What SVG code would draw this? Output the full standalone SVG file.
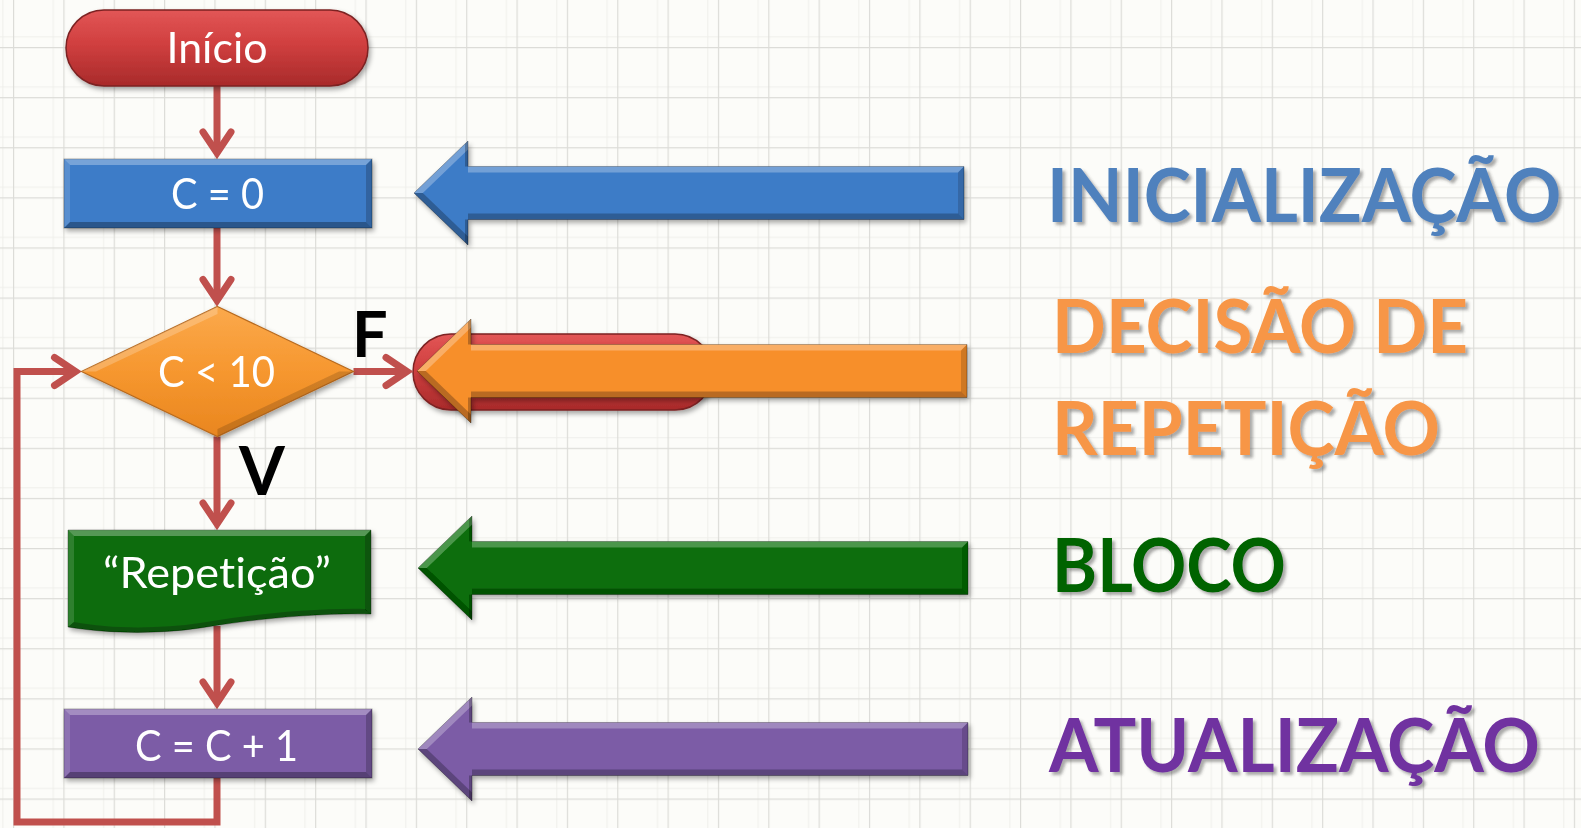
<svg xmlns="http://www.w3.org/2000/svg" xmlns:xlink="http://www.w3.org/1999/xlink" width="1581" height="828" viewBox="0 0 1581 828">
<style>
.nodeText{font-family:Lato,"Open Sans","Liberation Sans",sans-serif;font-size:42px;fill:#ffffff;text-anchor:middle;font-variant-ligatures:none}
.lbl{font-family:Lato,"Open Sans","Liberation Sans",sans-serif;font-weight:700;font-size:75px;font-variant-ligatures:none}
.fv{font-family:Lato,"Open Sans","Liberation Sans",sans-serif;font-weight:700;fill:#000000}
.conn{fill:none;stroke:#c0504d;stroke-width:7;stroke-linejoin:miter;stroke-linecap:butt}
.hl{fill:#ffffff}
.dk{fill:#000000}
</style>
<defs>
<pattern id="grid" patternUnits="userSpaceOnUse" x="13" y="47" width="50.35" height="50.1">
<path d="M40.3,0V50.1M0,40H50.35" stroke="#efefeb" stroke-width="1"/>
<path d="M0.6,0V50.1M0,0.6H50.35" stroke="#dcdcd8" stroke-width="1.2"/>
</pattern>
<linearGradient id="redG" x1="0" y1="0" x2="0" y2="1">
<stop offset="0" stop-color="#e25656"/>
<stop offset="0.45" stop-color="#d03f3f"/>
<stop offset="1" stop-color="#a82a2a"/>
</linearGradient>
<linearGradient id="orgG" x1="0" y1="0" x2="0" y2="1">
<stop offset="0" stop-color="#fba94c"/>
<stop offset="0.5" stop-color="#f6972f"/>
<stop offset="1" stop-color="#e9861f"/>
</linearGradient>
<filter id="shadow" x="-10%" y="-20%" width="125%" height="150%">
<feDropShadow dx="2" dy="3" stdDeviation="2.5" flood-color="#000" flood-opacity="0.35"/>
</filter>
<filter id="tshadow" filterUnits="userSpaceOnUse" x="1000" y="100" width="580" height="720">
<feDropShadow dx="3" dy="3" stdDeviation="1.8" flood-color="#444" flood-opacity="0.45"/>
</filter>
<marker id="vh" markerUnits="userSpaceOnUse" viewBox="-30 -25 40 50" markerWidth="40" markerHeight="50" refX="0" refY="0" orient="auto" overflow="visible">
<path d="M-21,-14 L0,0 L-21,14" fill="none" stroke="#c0504d" stroke-width="7" stroke-linecap="round" stroke-linejoin="miter"/>
</marker>
<g id="bigArrow">
<polygon points="0,0 54,-52 54,-26.5 550,-26.5 550,26.5 54,26.5 54,52" stroke="#000" stroke-opacity="0.3" stroke-width="1"/>
<polygon class="hl" opacity="0.28" points="0,0 54,-52 54,-43.5 8.8,0"/>
<polygon class="dk" opacity="0.25" points="0,0 54,52 54,43.5 8.8,0"/>
<polygon class="hl" opacity="0.28" points="54,-26.5 550,-26.5 544,-20.5 54,-20.5"/>
<polygon class="dk" opacity="0.25" points="54,20.5 544,20.5 550,26.5 54,26.5"/>
<polygon class="dk" opacity="0.16" points="544,-20.5 550,-26.5 550,26.5 544,20.5"/>
<polygon class="dk" opacity="0.25" points="51,-49 54,-52 54,-26.5 51,-26.5"/>
<polygon class="dk" opacity="0.25" points="51,26.5 54,26.5 54,52 51,49"/>
</g>
<g id="bevelBox">
<rect x="0" y="0" width="308" height="69" stroke="#000" stroke-opacity="0.3" stroke-width="1"/>
<polygon class="hl" opacity="0.3" points="0,0 308,0 302,6 6,6"/>
<polygon class="dk" opacity="0.3" points="0,69 308,69 302,63 6,63"/>
<polygon class="hl" opacity="0.14" points="0,0 6,6 6,63 0,69"/>
<polygon class="dk" opacity="0.2" points="308,0 302,6 302,63 308,69"/>
</g>
</defs>

<rect x="0" y="0" width="1581" height="828" fill="#fcfcf9"/>
<rect x="0" y="0" width="1581" height="828" fill="url(#grid)"/>

<g id="fim" filter="url(#shadow)">
<rect x="413" y="334" width="300" height="76" rx="38" ry="38" fill="url(#redG)" stroke="#7c2222" stroke-width="1.5"/>
</g>

<g id="connectors">
<path class="conn" d="M217,86 V153" marker-end="url(#vh)"/>
<path class="conn" d="M217,228 V300.5" marker-end="url(#vh)"/>
<path class="conn" d="M353.5,371.5 H407" marker-end="url(#vh)"/>
<path class="conn" d="M217,436.5 V524" marker-end="url(#vh)"/>
<path class="conn" d="M217,626 V703" marker-end="url(#vh)"/>
<path class="conn" d="M217,778 V822 H17 V371.5 H75.5" marker-end="url(#vh)"/>
</g>

<g id="inicio" filter="url(#shadow)">
<rect x="66" y="10" width="302" height="76" rx="38" ry="38" fill="url(#redG)" stroke="#7c2222" stroke-width="1.5"/>
<text class="nodeText" x="217" y="63" textLength="101" lengthAdjust="spacingAndGlyphs">Início</text>
</g>

<g id="c0" filter="url(#shadow)">
<use xlink:href="#bevelBox" href="#bevelBox" x="64" y="159" fill="#3d7cc8"/>
<text class="nodeText" x="217.5" y="209" font-size="40" textLength="93" lengthAdjust="spacingAndGlyphs">C = 0</text>
</g>

<g id="decisao" filter="url(#shadow)">
<polygon points="217.5,306.5 353.5,371.5 217.5,436.5 81.5,371.5" fill="url(#orgG)" stroke="#b86a1e" stroke-width="1.2"/>
<polygon class="hl" opacity="0.22" points="81.5,371.5 217.5,306.5 217.5,314 96,371.5"/>
<polygon class="dk" opacity="0.15" points="217.5,436.5 353.5,371.5 339,371.5 217.5,429"/>
<text class="nodeText" x="216.5" y="387" textLength="117" lengthAdjust="spacingAndGlyphs">C &lt; 10</text>
</g>

<g id="labelF"><text class="fv" x="352" y="357" font-size="63">F</text></g>
<g id="labelV"><text class="fv" x="239" y="495" font-size="66">V</text></g>

<g id="repeticao" filter="url(#shadow)">
<path d="M68,530 H371 V614 C320,613 260,618 200,628 C160,634 110,634 68,627 Z" fill="#0b6c0b" stroke="#000" stroke-opacity="0.3" stroke-width="1"/>
<polygon class="hl" opacity="0.3" points="68,530 371,530 365,536 74,536"/>
<polygon class="hl" opacity="0.14" points="68,530 74,536 74,622 68,627"/>
<polygon class="dk" opacity="0.22" points="371,530 365,536 365,610 371,614"/>
<path class="dk" opacity="0.25" d="M68,627 C110,634 160,634 200,628 C260,618 320,613 371,614 L365,609 C320,608 260,613 200,623 C160,629 110,629 74,622 Z"/>
<text class="nodeText" x="217" y="588" textLength="228" lengthAdjust="spacingAndGlyphs">“Repetição”</text>
</g>

<g id="incremento" filter="url(#shadow)">
<use xlink:href="#bevelBox" href="#bevelBox" x="64" y="709" fill="#7b5ba6"/>
<text class="nodeText" x="216.5" y="761" textLength="163" lengthAdjust="spacingAndGlyphs">C = C + 1</text>
</g>

<g id="seta-inicializacao" filter="url(#shadow)">
<use xlink:href="#bigArrow" href="#bigArrow" x="414" y="193" fill="#3e7cc7"/>
</g>
<g id="seta-decisao" filter="url(#shadow)">
<use xlink:href="#bigArrow" href="#bigArrow" x="417" y="371" fill="#f78f2b"/>
</g>
<g id="seta-bloco" filter="url(#shadow)">
<use xlink:href="#bigArrow" href="#bigArrow" x="418" y="568" fill="#086e08"/>
</g>
<g id="seta-atualizacao" filter="url(#shadow)">
<use xlink:href="#bigArrow" href="#bigArrow" x="418" y="749" fill="#7b5ba6"/>
</g>

<g id="rotulos" filter="url(#tshadow)">
<text class="lbl" transform="translate(1047,222) scale(0.8,1)" x="0" y="0" fill="#4f81bd" font-size="74" textLength="643" lengthAdjust="spacingAndGlyphs">INICIALIZAÇÃO</text>
<text class="lbl" x="1052" y="353" fill="#f79646" textLength="416" lengthAdjust="spacingAndGlyphs">DECISÃO DE</text>
<text class="lbl" x="1052" y="455" fill="#f79646" textLength="388" lengthAdjust="spacingAndGlyphs">REPETIÇÃO</text>
<text class="lbl" x="1052" y="592" fill="#006400" textLength="234" lengthAdjust="spacingAndGlyphs">BLOCO</text>
<text class="lbl" x="1049" y="772" fill="#7030a0" textLength="491" lengthAdjust="spacingAndGlyphs">ATUALIZAÇÃO</text>
</g>
</svg>
